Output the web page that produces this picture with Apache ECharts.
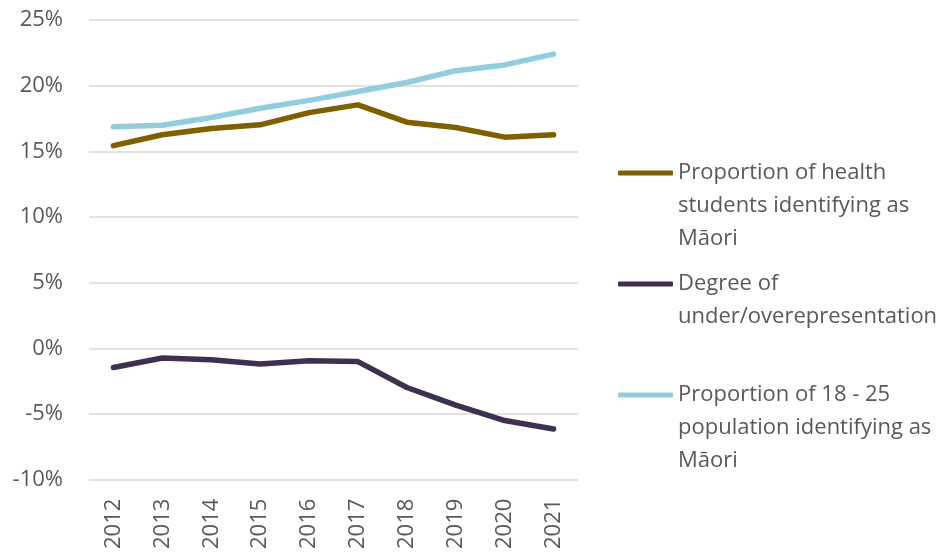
<!DOCTYPE html>
<html>
<head>
<meta charset="utf-8">
<script src="https://cdn.jsdelivr.net/npm/echarts@6/dist/echarts.min.js"></script>
<style>
  html, body { margin: 0; padding: 0; background: #fff; }
  #chart { width: 943px; height: 552px; }
</style>
</head>
<body>
<div id="chart"></div>
<script>
// Years on the horizontal axis
const years = ['2012', '2013', '2014', '2015', '2016', '2017', '2018', '2019', '2020', '2021'];

// Percentages per year
const healthStudentsMaori = [15.43, 16.26, 16.74, 17.02, 17.95, 18.54, 17.22, 16.82, 16.08, 16.26];
const degreeOfRepresentation = [-1.46, -0.74, -0.86, -1.2, -0.94, -1.01, -2.98, -4.32, -5.5, -6.14];
const population18to25Maori = [16.87, 16.98, 17.58, 18.28, 18.88, 19.56, 20.24, 21.14, 21.58, 22.4];

// Series names and their wrapped legend labels
const nameHealth = 'Proportion of health students identifying as Māori';
const nameDegree = 'Degree of under/overepresentation';
const namePop = 'Proportion of 18 - 25 population identifying as Māori';

const linesHealth = ['Proportion of health', 'students identifying as', 'Māori'];
const linesDegree = ['Degree of', 'under/overepresentation'];
const linesPop = ['Proportion of 18 - 25', 'population identifying as', 'Māori'];

const FONT = '"Open Sans", "Noto Sans", sans-serif';
const FONT_SIZE = 22;
const TEXT_COLOR = '#595959';
const LINE_H = 33;

const colors = {
  health: '#7f6000',
  degree: '#3e3150',
  pop: '#92cddc'
};

// One legend block per series; blank lines above the label keep the
// swatch level with the first line of wrapped text.
function makeLegend(name, lines, iconCenterY) {
  const k = lines.length;
  const label = new Array(k - 1).fill('').concat(lines).join('\n');
  const blockH = (2 * k - 1) * LINE_H;
  return {
    show: true,
    data: [name],
    left: 618,
    top: iconCenterY - blockH / 2,
    padding: 0,
    orient: 'vertical',
    icon: 'roundRect',
    itemWidth: 55,
    itemHeight: 5,
    selectedMode: false,
    formatter: function () { return label; },
    textStyle: {
      fontFamily: FONT,
      fontSize: FONT_SIZE,
      color: TEXT_COLOR,
      lineHeight: LINE_H
    }
  };
}

function lineSeries(name, data, color) {
  return {
    name: name,
    type: 'line',
    data: data,
    showSymbol: false,
    symbol: 'none',
    color: color,
    lineStyle: { width: 5.5, color: color, cap: 'round', join: 'round' },
    itemStyle: { color: color },
    emphasis: { disabled: true },
    animation: false
  };
}

const chart = echarts.init(document.getElementById('chart'), null, { renderer: 'canvas' });

chart.setOption({
  backgroundColor: '#ffffff',
  animation: false,
  grid: { left: 89, right: 365, top: 20, bottom: 71, containLabel: false },
  legend: [
    makeLegend(nameHealth, linesHealth, 173),
    makeLegend(nameDegree, linesDegree, 284),
    makeLegend(namePop, linesPop, 395)
  ],
  xAxis: {
    type: 'category',
    data: years,
    boundaryGap: true,
    axisLine: { show: false },
    axisTick: { show: false },
    axisLabel: {
      rotate: 90,
      margin: 19,
      fontFamily: FONT,
      fontSize: FONT_SIZE,
      color: TEXT_COLOR
    },
    splitLine: { show: false }
  },
  yAxis: {
    type: 'value',
    min: -10,
    max: 25,
    interval: 5,
    axisLine: { show: false },
    axisTick: { show: false },
    axisLabel: {
      formatter: '{value}%',
      margin: 26,
      fontFamily: FONT,
      fontSize: FONT_SIZE,
      color: TEXT_COLOR
    },
    splitLine: { lineStyle: { color: '#d9d9d9', width: 1.5 } }
  },
  series: [
    lineSeries(nameHealth, healthStudentsMaori, colors.health),
    lineSeries(nameDegree, degreeOfRepresentation, colors.degree),
    lineSeries(namePop, population18to25Maori, colors.pop)
  ]
});
</script>
</body>
</html>
